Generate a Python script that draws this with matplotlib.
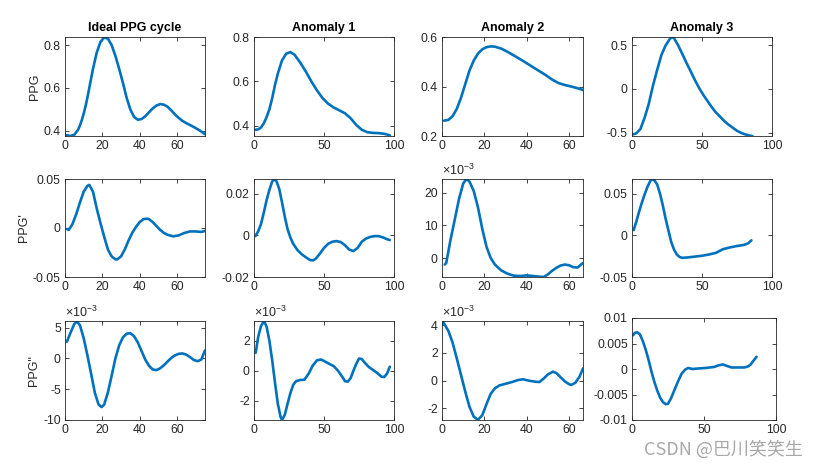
import matplotlib
matplotlib.use("Agg")
import matplotlib.pyplot as plt

plt.rcParams['font.family'] = ['Liberation Sans', 'DejaVu Sans']
plt.rcParams['mathtext.fontset'] = 'custom'
plt.rcParams['mathtext.rm'] = 'Liberation Sans'

# ---- row 1: PPG ----
x_ppg_ideal = [1, 3, 5, 7, 8, 9, 10, 11, 12, 13, 15, 17, 19, 21, 23, 25, 27, 29, 31, 33, 35,
               37, 39, 41, 43, 45, 47, 49, 51, 53, 55, 57, 59, 61, 63, 65, 67, 69, 71, 73, 75]
y_ppg_ideal = [0.380, 0.376, 0.382, 0.405, 0.425, 0.450, 0.480, 0.515, 0.555, 0.600, 0.690,
               0.765, 0.815, 0.836, 0.830, 0.800, 0.750, 0.690, 0.625, 0.555, 0.500, 0.465,
               0.452, 0.455, 0.468, 0.487, 0.505, 0.518, 0.525, 0.522, 0.512, 0.495, 0.476,
               0.460, 0.446, 0.436, 0.427, 0.418, 0.408, 0.397, 0.384]

x_ppg_a1 = [1, 3, 5, 7, 9, 11, 13, 15, 17, 20, 23, 26, 29, 33, 37, 41, 45, 49, 53, 57, 61,
            65, 69, 73, 77, 81, 85, 89, 93, 97]
y_ppg_a1 = [0.383, 0.385, 0.393, 0.412, 0.440, 0.475, 0.525, 0.585, 0.635, 0.695, 0.725,
            0.732, 0.720, 0.685, 0.645, 0.600, 0.560, 0.525, 0.500, 0.483, 0.470, 0.457,
            0.435, 0.405, 0.383, 0.372, 0.369, 0.368, 0.365, 0.358]

x_ppg_a2 = [1, 3, 5, 7, 9, 11, 13, 15, 17, 19, 21, 23, 25, 28, 31, 34, 37, 40, 43, 46,
            49, 52, 55, 58, 61, 64, 67]
y_ppg_a2 = [0.262, 0.265, 0.280, 0.310, 0.355, 0.410, 0.465, 0.505, 0.533, 0.550, 0.559,
            0.562, 0.561, 0.553, 0.540, 0.525, 0.510, 0.494, 0.478, 0.462, 0.446, 0.428,
            0.414, 0.406, 0.400, 0.393, 0.385]

x_ppg_a3 = [1, 3, 6, 9, 12, 15, 18, 21, 24, 27, 28.5, 30, 33, 36, 39, 42, 45, 48, 51, 54,
            57, 60, 63, 66, 69, 72, 75, 78, 81, 84, 86]
y_ppg_a3 = [-0.52, -0.51, -0.46, -0.33, -0.17, 0.04, 0.22, 0.39, 0.50, 0.575, 0.595, 0.585,
            0.50, 0.40, 0.297, 0.20, 0.10, 0.01, -0.07, -0.14, -0.21, -0.27, -0.32, -0.37,
            -0.41, -0.445, -0.48, -0.505, -0.522, -0.535, -0.54]

# ---- row 2: PPG' ----
x_d1_ideal = [1, 2, 4, 6, 8, 10, 12, 13, 15, 17, 19, 21, 23, 25, 27, 28, 30, 32, 34, 36,
              38, 40, 42, 44, 45, 47, 49, 51, 53, 55, 58, 61, 64, 67, 70, 73, 75]
y_d1_ideal = [-0.001, -0.002, 0.004, 0.014, 0.026, 0.037, 0.043, 0.044, 0.037, 0.020, 0.005,
              -0.009, -0.022, -0.029, -0.032, -0.032, -0.029, -0.022, -0.013, -0.005, 0.001,
              0.006, 0.009, 0.0095, 0.009, 0.006, 0.002, -0.002, -0.005, -0.007, -0.0085,
              -0.0075, -0.005, -0.0035, -0.0035, -0.004, -0.003]

x_d1_a1 = [1, 3, 5, 7, 9, 11, 13, 14.5, 16, 18, 20, 22, 24, 26, 28, 31, 34, 37, 40, 42,
           44, 47, 50, 53, 56, 59, 62, 65, 68, 71, 74, 77, 80, 83, 86, 89, 92, 95, 97]
y_d1_a1 = [-0.0003, 0.002, 0.0055, 0.011, 0.017, 0.022, 0.026, 0.027, 0.0262, 0.0225, 0.016,
           0.009, 0.003, -0.001, -0.004, -0.007, -0.009, -0.0105, -0.0118, -0.012, -0.0113,
           -0.0088, -0.006, -0.004, -0.003, -0.0027, -0.0032, -0.0047, -0.0068, -0.0075,
           -0.006, -0.003, -0.0015, -0.0007, -0.0003, -0.0003, -0.0009, -0.0018, -0.0022]

# values in units of 1e-3
x_d1_a2 = [1.3, 2, 4, 6, 8, 10, 11.5, 13, 15, 17, 19, 21, 23, 25, 28, 31, 34, 37, 40, 43,
           46, 48, 50, 52, 54, 56, 58, 60, 62, 64, 66.6]
y_d1_a2 = [-2.0, -1.5, 5.5, 11.7, 18.0, 22.8, 24.2, 23.4, 20.5, 15.5, 9.0, 3.5, 0.0, -2.0,
           -3.8, -4.8, -5.4, -5.5, -5.3, -5.5, -5.7, -5.8, -5.0, -3.9, -3.0, -2.3, -2.0,
           -2.2, -2.8, -2.9, -1.5]

x_d1_a3 = [1.2, 3, 5, 7, 9, 11, 13, 14.2, 16, 18, 20, 22, 24, 26, 28, 30, 32, 34, 36, 40,
           45, 50, 55, 60, 65, 70, 75, 80, 83, 85.3]
y_d1_a3 = [0.0063, 0.016, 0.028, 0.039, 0.049, 0.058, 0.065, 0.0676, 0.066, 0.061, 0.050,
           0.036, 0.020, 0.006, -0.008, -0.017, -0.023, -0.026, -0.027, -0.0265, -0.0255,
           -0.0245, -0.023, -0.021, -0.0166, -0.0145, -0.0128, -0.0115, -0.0095, -0.006]

# ---- row 3: PPG'' ----
# values in units of 1e-3
x_d2_ideal = [1, 3, 5, 6.3, 8, 10, 12, 14, 16, 18, 19.6, 21, 23, 25, 27, 29, 31, 33, 35, 37,
              39, 41, 43, 45, 47, 49, 51, 53, 55, 57, 59, 61, 63, 65, 67, 69, 71, 73, 75]
y_d2_ideal = [2.7, 4.2, 5.6, 6.0, 5.4, 3.3, 0.5, -2.5, -5.6, -7.5, -7.9, -7.5, -5.5, -2.8,
              0.0, 2.1, 3.4, 4.0, 4.1, 3.6, 2.6, 1.2, -0.2, -1.2, -1.8, -1.9, -1.6, -1.1,
              -0.5, 0.1, 0.5, 0.75, 0.8, 0.6, 0.2, -0.25, -0.45, -0.2, 1.3]

x_d2_a1 = [1.2, 3, 5, 7.2, 9, 11, 13, 15, 17, 19, 20, 22, 24, 26, 28, 30, 33, 36, 39, 42,
           45, 48, 51, 54, 57, 60, 63, 65, 67, 69, 71, 73, 75, 77, 79, 82, 85, 88, 91, 93,
           95, 97]
y_d2_a1 = [1.2, 2.27, 3.0, 3.33, 2.95, 2.0, 0.7, -0.8, -2.2, -3.1, -3.29, -2.95, -2.2, -1.5,
           -0.95, -0.7, -0.62, -0.6, -0.2, 0.35, 0.7, 0.75, 0.6, 0.45, 0.3, 0.0, -0.4, -0.7,
           -0.73, -0.5, 0.0, 0.45, 0.82, 0.78, 0.55, 0.25, 0.05, -0.15, -0.4, -0.42, -0.2,
           0.27]

x_d2_a2 = [0.5, 3, 5, 7, 9, 11, 13, 15, 17, 19, 21, 23, 25, 27, 29.6, 33, 36, 38.3, 41, 44,
           46, 48, 50, 52.4, 54, 56, 58, 60, 61, 63, 65, 66.6]
y_d2_a2 = [4.24, 3.6, 2.75, 1.6, 0.4, -0.8, -1.9, -2.6, -2.83, -2.5, -1.7, -0.95, -0.55,
           -0.35, -0.24, -0.1, 0.05, 0.1, 0.0, -0.07, -0.1, 0.15, 0.45, 0.65, 0.55, 0.25,
           -0.05, -0.25, -0.31, -0.15, 0.3, 0.89]

x_d2_a3 = [0.7, 2, 3.6, 5.5, 7.5, 9.5, 11.5, 13.5, 15.5, 17.5, 19.5, 21.5, 23.5, 25, 27,
           29.5, 32, 34.5, 37, 39, 42, 46, 51, 57, 60, 63, 66, 69, 72, 75, 78, 80.6, 82.5,
           84, 86.5]
y_d2_a3 = [0.0066, 0.0071, 0.0072, 0.0068, 0.0055, 0.0038, 0.0018, -0.0005, -0.0025,
           -0.0042, -0.0056, -0.0065, -0.0069, -0.0068, -0.0058, -0.0041, -0.0024, -0.0009,
           -0.0001, 0.0002, 0.0, 0.0001, 0.0002, 0.0004, 0.0007, 0.0009, 0.0006, 0.0003,
           0.0003, 0.0003, 0.0003, 0.0005, 0.0009, 0.0015, 0.0024]

titles = ['Ideal PPG cycle', 'Anomaly 1', 'Anomaly 2', 'Anomaly 3']
row_labels = ['PPG', "PPG'", 'PPG"']

dark = '#262626'
blue = '#0072BD'

W, H = 819, 468
col_px = [(65, 205), (254, 394), (442, 583), (632, 772)]
row_px = [(37, 136), (179, 277), (321, 420)]

panels = [
    # row 1
    dict(x=x_ppg_ideal, y=y_ppg_ideal, xlim=(0, 75), xt=[0, 20, 40, 60],
         ylim=(0.376, 0.838), yt=[0.4, 0.6, 0.8], ytl=['0.4', '0.6', '0.8']),
    dict(x=x_ppg_a1, y=y_ppg_a1, xlim=(0, 100), xt=[0, 50, 100],
         ylim=(0.355, 0.8), yt=[0.4, 0.6, 0.8], ytl=['0.4', '0.6', '0.8']),
    dict(x=x_ppg_a2, y=y_ppg_a2, xlim=(0, 66.6), xt=[0, 20, 40, 60],
         ylim=(0.2, 0.6), yt=[0.2, 0.4, 0.6], ytl=['0.2', '0.4', '0.6']),
    dict(x=x_ppg_a3, y=y_ppg_a3, xlim=(0, 100), xt=[0, 50, 100],
         ylim=(-0.54, 0.597), yt=[-0.5, 0, 0.5], ytl=['-0.5', '0', '0.5']),
    # row 2
    dict(x=x_d1_ideal, y=y_d1_ideal, xlim=(0, 75), xt=[0, 20, 40, 60],
         ylim=(-0.05, 0.05), yt=[-0.05, 0, 0.05], ytl=['-0.05', '0', '0.05']),
    dict(x=x_d1_a1, y=y_d1_a1, xlim=(0, 100), xt=[0, 50, 100],
         ylim=(-0.02, 0.0272), yt=[-0.02, 0, 0.02], ytl=['-0.02', '0', '0.02']),
    dict(x=x_d1_a2, y=y_d1_a2, xlim=(0, 66.6), xt=[0, 20, 40, 60],
         ylim=(-5.8, 24.2), yt=[0, 10, 20], ytl=['0', '10', '20'], exp=True),
    dict(x=x_d1_a3, y=y_d1_a3, xlim=(0, 100), xt=[0, 50, 100],
         ylim=(-0.05, 0.0676), yt=[-0.05, 0, 0.05], ytl=['-0.05', '0', '0.05']),
    # row 3
    dict(x=x_d2_ideal, y=y_d2_ideal, xlim=(0, 75), xt=[0, 20, 40, 60],
         ylim=(-10, 6.07), yt=[-10, -5, 0, 5], ytl=['-10', '-5', '0', '5'], exp=True),
    dict(x=x_d2_a1, y=y_d2_a1, xlim=(0, 100), xt=[0, 50, 100],
         ylim=(-3.3, 3.33), yt=[-2, 0, 2], ytl=['-2', '0', '2'], exp=True),
    dict(x=x_d2_a2, y=y_d2_a2, xlim=(0, 66.6), xt=[0, 20, 40, 60],
         ylim=(-2.84, 4.31), yt=[-2, 0, 2, 4], ytl=['-2', '0', '2', '4'], exp=True),
    dict(x=x_d2_a3, y=y_d2_a3, xlim=(0, 100), xt=[0, 50, 100],
         ylim=(-0.01, 0.01), yt=[-0.01, -0.005, 0, 0.005, 0.01],
         ytl=['-0.01', '-0.005', '0', '0.005', '0.01']),
]

fig = plt.figure(figsize=(W / 100, H / 100), dpi=100)

for i, p in enumerate(panels):
    r, c = divmod(i, 4)
    x0, x1 = col_px[c]
    top, bot = row_px[r]
    if r == 2 and c == 3:
        x1, top = 776, 318
    ax = fig.add_axes([x0 / W, 1 - bot / H, (x1 - x0) / W, (bot - top) / H])
    ax.plot(p['x'], p['y'], color=blue, lw=1.9, solid_capstyle='round')
    ax.set_xlim(*p['xlim'])
    ax.set_ylim(*p['ylim'])
    ax.set_xticks(p['xt'])
    ax.set_xticklabels([str(v) for v in p['xt']])
    ax.set_yticks(p['yt'])
    ax.set_yticklabels(p['ytl'])
    ax.tick_params(direction='in', top=True, right=True, length=3, width=0.6,
                   labelsize=8.8, colors=dark, pad=3)
    for s in ax.spines.values():
        s.set_linewidth(0.6)
        s.set_color(dark)
    if r == 0:
        ax.set_title(titles[c], fontsize=9, fontweight='bold', color='black', pad=4)
    if c == 0:
        ax.set_ylabel(row_labels[r], fontsize=9, color=dark, labelpad=2)
    if p.get('exp'):
        ax.text(0.0, 1.01, r'$\times10^{-3}$', transform=ax.transAxes,
                fontsize=9, color=dark, ha='left', va='bottom')

fig.text(0.98, 0.04, 'CSDN @巴川笑笑生', ha='right', va='center', fontsize=13,
         color='#a8a8a8', family=['Noto Sans CJK SC', 'DejaVu Sans'])

fig.savefig('out.png', dpi=100)
